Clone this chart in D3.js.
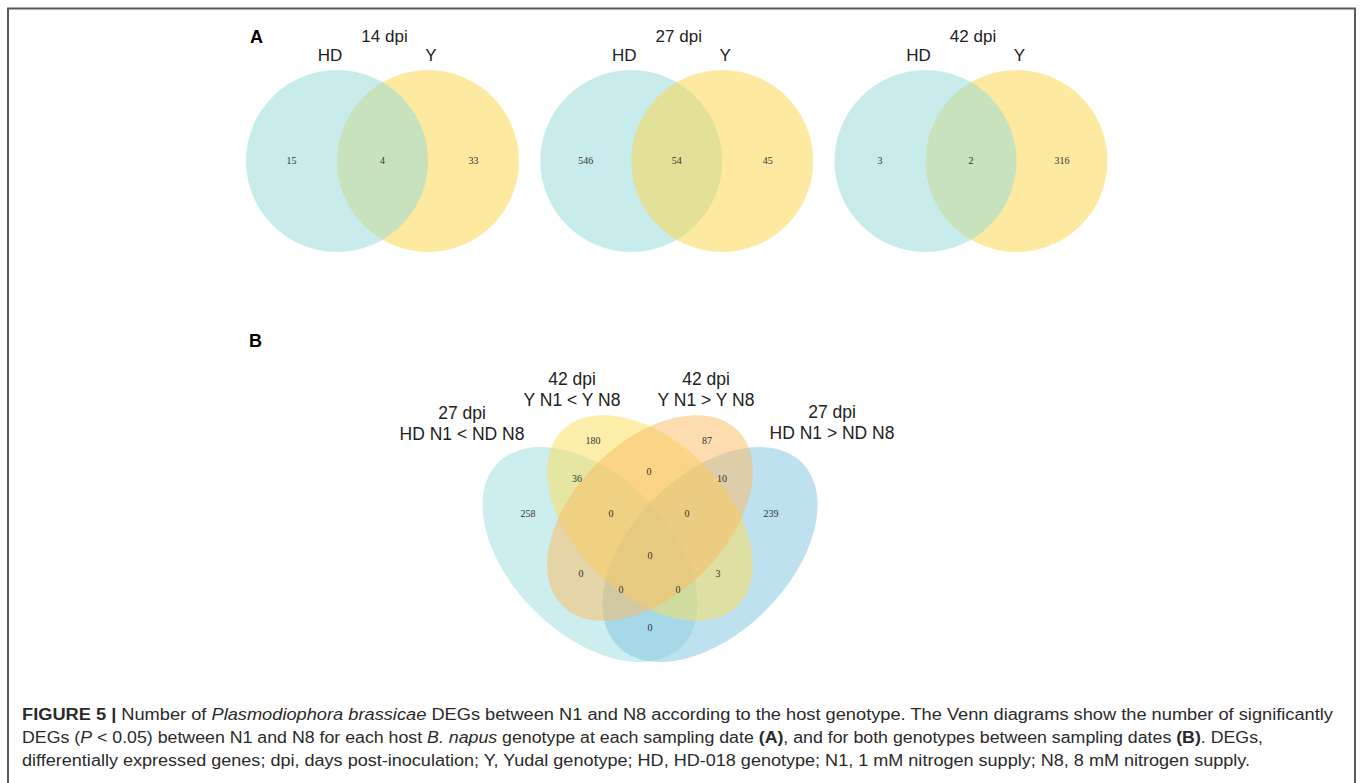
<!DOCTYPE html>
<html>
<head>
<meta charset="utf-8">
<script src="https://cdn.jsdelivr.net/npm/d3@7"></script>
<style>
  body { margin: 0; background: #fff; }
  text { font-family: "Liberation Sans", Arial, sans-serif; }
</style>
</head>
<body>
<div id="fig"></div>
<script>
// ---- data: panel A (two-set Venns, one per sampling date)
var dpiA = ["14 dpi", "27 dpi", "42 dpi"];
var setsA = ["HD", "Y"];
var hdOnly = [15, 546, 3];
var shared = [4, 54, 2];
var yOnly = [33, 45, 316];

// ---- data: panel B (four-set Venn)
var dpiB = ["27 dpi", "42 dpi", "42 dpi", "27 dpi"];
var cmpB = ["HD N1 < ND N8", "Y N1 < Y N8", "Y N1 > Y N8", "HD N1 > ND N8"];
var regionsB = ["A", "B", "C", "D", "AB", "CD", "BC", "ABC", "BCD", "ABCD", "AC", "BD", "ACD", "ABD", "AD"];
var countsB = [258, 180, 87, 239, 36, 10, 0, 0, 0, 0, 0, 3, 0, 0, 0];

// ---- caption
var caption = [
  [["FIGURE 5 | ", "b"], ["Number of ", ""], ["Plasmodiophora brassicae", "i"], [" DEGs between N1 and N8 according to the host genotype. The Venn diagrams show the number of significantly", ""]],
  [["DEGs (", ""], ["P", "i"], [" < 0.05) between N1 and N8 for each host ", ""], ["B. napus", "i"], [" genotype at each sampling date ", ""], ["(A)", "b"], [", and for both genotypes between sampling dates ", ""], ["(B)", "b"], [". DEGs,", ""]],
  [["differentially expressed genes; dpi, days post-inoculation; Y, Yudal genotype; HD, HD-018 genotype; N1, 1 mM nitrogen supply; N8, 8 mM nitrogen supply.", ""]]
];

var W = 1360, H = 783;
var svg = d3.select("#fig").append("svg")
    .attr("width", W)
    .attr("height", H);

// frame
svg.append("path")
    .attr("d", "M8,783 V8.5 H1355 V783")
    .attr("fill", "none")
    .attr("stroke", "#5a5a5a")
    .attr("stroke-width", 2);

// ================= panel A =================
var cx = d3.scalePoint().domain(dpiA).range([382.5, 971]);
var r = 91, half = 45.5, cyA = 161;
var colA = d3.scaleOrdinal().domain(setsA).range(["#91d9d9", "#fbd541"]);
// drawing order differs a bit between diagrams (cyan on top for 14 and 42 dpi)
var cyanOnTop = [true, false, true];

svg.append("text")
    .attr("x", 250).attr("y", 43)
    .style("font-weight", "bold").style("font-size", "18px")
    .text("A");

dpiA.forEach(function(d, i) {
  var g = svg.append("g").attr("transform", "translate(" + cx(d) + "," + cyA + ")");
  var order = cyanOnTop[i] ? ["Y", "HD"] : ["HD", "Y"];
  order.forEach(function(s) {
    g.append("circle")
      .attr("cx", s == "HD" ? -half : half)
      .attr("cy", 0)
      .attr("r", r)
      .attr("fill", colA(s))
      .attr("fill-opacity", 0.5);
  });
  g.append("text")
    .attr("x", 2).attr("y", -119)
    .attr("text-anchor", "middle")
    .style("font-size", "17px").attr("fill", "#222")
    .text(d);
  g.append("text")
    .attr("x", -half - 7).attr("y", -100)
    .attr("text-anchor", "middle")
    .style("font-size", "17px").attr("fill", "#222")
    .text(setsA[0]);
  g.append("text")
    .attr("x", half + 3).attr("y", -100)
    .attr("text-anchor", "middle")
    .style("font-size", "17px").attr("fill", "#222")
    .text(setsA[1]);

  var vals = [hdOnly[i], shared[i], yOnly[i]];
  var xs = [-half * 2, 0, half * 2];
  vals.forEach(function(v, k) {
    g.append("text")
      .attr("x", xs[k]).attr("y", 3)
      .attr("text-anchor", "middle")
      .style("font-family", "'Liberation Serif', 'Times New Roman', serif")
      .style("font-size", "10px").attr("fill", "#333")
      .text(v);
  });
});

// ================= panel B =================
svg.append("text")
    .attr("x", 249).attr("y", 347)
    .style("font-weight", "bold").style("font-size", "18px")
    .text("B");

var gB = svg.append("g").attr("transform", "translate(650,540)");

// ellipse layout (relative to the centre of the diagram)
var ellB = {
  A: {x: -60, y: 14.5, rx: 130, ry: 79, rot: 45},
  B: {x: 0, y: -22, rx: 124, ry: 76, rot: 45},
  C: {x: 0, y: -22, rx: 124, ry: 76, rot: -45},
  D: {x: 60, y: 14.5, rx: 130, ry: 79, rot: -45}
};
var colB = d3.scaleOrdinal().domain(["A", "B", "C", "D"])
    .range(["#9bdddd", "#fbdd55", "#fbb95f", "#7dc3e1"]);

["A", "D", "B", "C"].forEach(function(k) {
  var e = ellB[k];
  gB.append("ellipse")
    .attr("transform", "translate(" + e.x + "," + e.y + ") rotate(" + e.rot + ")")
    .attr("rx", e.rx)
    .attr("ry", e.ry)
    .attr("fill", colB(k))
    .attr("fill-opacity", 0.5);
});

// where each region's count is written
var posB = {
  A: [-122, -26], B: [-57, -99], C: [57, -99], D: [121, -26],
  AB: [-73, -61], CD: [72, -61], BC: [-1, -68],
  ABC: [-39, -26], BCD: [37, -26], ABCD: [0, 16],
  AC: [-69, 34], BD: [68, 34], ACD: [-29, 50], ABD: [28, 50], AD: [0, 88]
};
regionsB.forEach(function(k, i) {
  gB.append("text")
    .attr("x", posB[k][0]).attr("y", posB[k][1] + 3)
    .attr("text-anchor", "middle")
    .style("font-family", "'Liberation Serif', 'Times New Roman', serif")
    .style("font-size", "10px").attr("fill", "#333")
    .text(countsB[i]);
});

// set labels
var labPos = [[462, 419], [572, 385], [706, 385], [832, 418]];
dpiB.forEach(function(d, i) {
  var t = svg.append("text")
    .attr("text-anchor", "middle")
    .style("font-size", "17.5px").attr("fill", "#222");
  t.append("tspan").attr("x", labPos[i][0]).attr("y", labPos[i][1]).text(d);
  t.append("tspan").attr("x", labPos[i][0]).attr("y", labPos[i][1] + 21).text(cmpB[i]);
});

// ================= caption =================
var capY = [720, 743, 766];
var capLen = [1311, 1241, 1228];
caption.forEach(function(line, i) {
  var t = svg.append("text")
    .attr("x", 22).attr("y", capY[i])
    .attr("textLength", capLen[i])
    .attr("lengthAdjust", "spacingAndGlyphs")
    .style("font-size", "16px")
    .attr("fill", "#2a2a2a");
  line.forEach(function(p) {
    t.append("tspan")
      .style("font-weight", p[1] == "b" ? "bold" : null)
      .style("font-style", p[1] == "i" ? "italic" : null)
      .text(p[0]);
  });
});
</script>
</body>
</html>
